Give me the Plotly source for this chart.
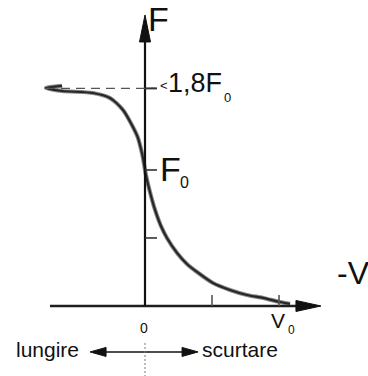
import plotly.graph_objects as go

# Force-velocity relation of muscle: velocity in units of V0 (positive = shortening),
# force in units of F0 (isometric force).
CURVE_V = [-0.619, -0.739, -0.619, -0.388, -0.261, -0.164, -0.090, -0.052, -0.030, -0.015,
           0.007, 0.037, 0.075, 0.119, 0.164, 0.239, 0.313, 0.388, 0.507, 0.634, 0.761,
           0.881, 1.007, 1.082]
CURVE_F = [1.618, 1.603, 1.581, 1.566, 1.529, 1.441, 1.316, 1.235, 1.154, 1.088,
           0.963, 0.838, 0.706, 0.588, 0.500, 0.390, 0.309, 0.250, 0.169, 0.118, 0.081,
           0.059, 0.029, 0.015]

PLATEAU = 1.60            # eccentric plateau level, marked "<1,8F0"
F_TICKS = [0.5, 1.0]      # ticks on the force axis
V_TICKS = [0.5, 1.0]      # ticks on the velocity axis

W, H = 368, 376
X_RANGE = [-1.082, 1.664]
Y_RANGE = [-0.515, 2.25]
KX = (X_RANGE[1] - X_RANGE[0]) / W   # data units per pixel
KY = (Y_RANGE[1] - Y_RANGE[0]) / H

V_AXIS_START = -0.709
V_AXIS_END = 1.313
F_AXIS_END = 2.14

FONT = "Liberation Sans, Arial, sans-serif"
INK = "#111111"

fig = go.Figure()

# curve: grey halo under a dark stroke gives the pencil look
fig.add_trace(go.Scatter(x=CURVE_V, y=CURVE_F, mode="lines",
                         line=dict(color="#8a8a8a", width=4.2, shape="spline", smoothing=0.7),
                         hoverinfo="skip", showlegend=False))
fig.add_trace(go.Scatter(x=CURVE_V, y=CURVE_F, mode="lines",
                         line=dict(color="#262626", width=2.2, shape="spline", smoothing=0.7),
                         hoverinfo="skip", showlegend=False))

shapes = []


def seg(x0, y0, x1, y1, color, width, dash="solid"):
    shapes.append(dict(type="line", xref="x", yref="y", x0=x0, y0=y0, x1=x1, y1=y1,
                       line=dict(color=color, width=width, dash=dash), layer="above"))


def head(tx, ty, dx, dy, length, half):
    # filled triangular arrow head, tip at (tx, ty), pointing along (dx, dy) in pixels
    bx, by = -dx * length, -dy * length
    nx, ny = -dy * half, dx * half
    pts = [(tx, ty),
           (tx + (bx + nx) * KX, ty + (by + ny) * KY),
           (tx + (bx - nx) * KX, ty + (by - ny) * KY)]
    path = "M " + " L ".join(f"{x},{y}" for x, y in pts) + " Z"
    shapes.append(dict(type="path", xref="x", yref="y", path=path,
                       fillcolor=INK, line=dict(color=INK, width=1), layer="above"))


# velocity axis with arrow
seg(V_AXIS_START, 0, V_AXIS_END - 20 * KX, 0, "#1e1e1e", 2.6)
head(V_AXIS_END, 0, 1, 0, 25, 5.5)
# force axis with arrow
seg(0, 0, 0, F_AXIS_END - 20 * KY, "#111111", 2.2)
head(0, F_AXIS_END, 0, 1, 27, 5.5)

# ticks
for f in F_TICKS:
    seg(0, f, 12 * KX, f, "#333333", 1.6)
for v in V_TICKS:
    seg(v, 0, v, 11 * KY, "#555555", 1.6)

# plateau level
seg(CURVE_V[1], PLATEAU, 10 * KX, PLATEAU, "#555555", 1.4, dash="9px,6px")
seg(0, PLATEAU, 12 * KX, PLATEAU, "#333333", 2)

# lengthening / shortening double arrow and zero marker below the axis
ARROW_Y = -0.338
ARROW_L, ARROW_R = -0.41, 0.396
seg(ARROW_L + 14 * KX, ARROW_Y, ARROW_R - 14 * KX, ARROW_Y, INK, 1.6)
head(ARROW_L, ARROW_Y, -1, 0, 16, 4.5)
head(ARROW_R, ARROW_Y, 1, 0, 16, 4.5)
seg(0, -0.272, 0, Y_RANGE[0], "#777777", 1, dash="2px,2px")

annotations = []


def label(text, x, y, size, xanchor="left", xshift=0, yshift=0):
    annotations.append(dict(text=text, x=x, y=y, xref="x", yref="y", showarrow=False,
                            xanchor=xanchor, yanchor="middle", xshift=xshift, yshift=yshift,
                            font=dict(family=FONT, size=size, color=INK)))


label("F", 0, F_AXIS_END, 34, xshift=1, yshift=-4.5)
label("&lt;", 0, PLATEAU, 13, xshift=13, yshift=3)
label("1,8F", 0, PLATEAU, 27, xshift=21, yshift=5.5)
label("0", 0, PLATEAU, 13, xshift=77, yshift=-9.5)
label("F", 0, 1.0, 34, xshift=13, yshift=0.5)
label("0", 0, 1.0, 16, xshift=33, yshift=-12.5)
label("-V", 1.42, 0, 32, xshift=0, yshift=32.5)
label("V", 1.0, 0, 21, xshift=-10, yshift=-14.5)
label("0", 1.0, 0, 12, xshift=7, yshift=-24.5)
label("0", 0, 0, 14, xanchor="center", xshift=-1, yshift=-22)
label("lungire", ARROW_L, ARROW_Y, 21, xanchor="right", xshift=-9, yshift=2)
label("scurtare", ARROW_R, ARROW_Y, 21, xanchor="left", xshift=2, yshift=2)

fig.update_layout(
    width=W, height=H,
    margin=dict(l=0, r=0, t=0, b=0),
    paper_bgcolor="white", plot_bgcolor="white",
    xaxis=dict(range=X_RANGE, visible=False, fixedrange=True),
    yaxis=dict(range=Y_RANGE, visible=False, fixedrange=True),
    shapes=shapes, annotations=annotations, showlegend=False,
)

fig.write_html("out.html", config={"displayModeBar": False})
